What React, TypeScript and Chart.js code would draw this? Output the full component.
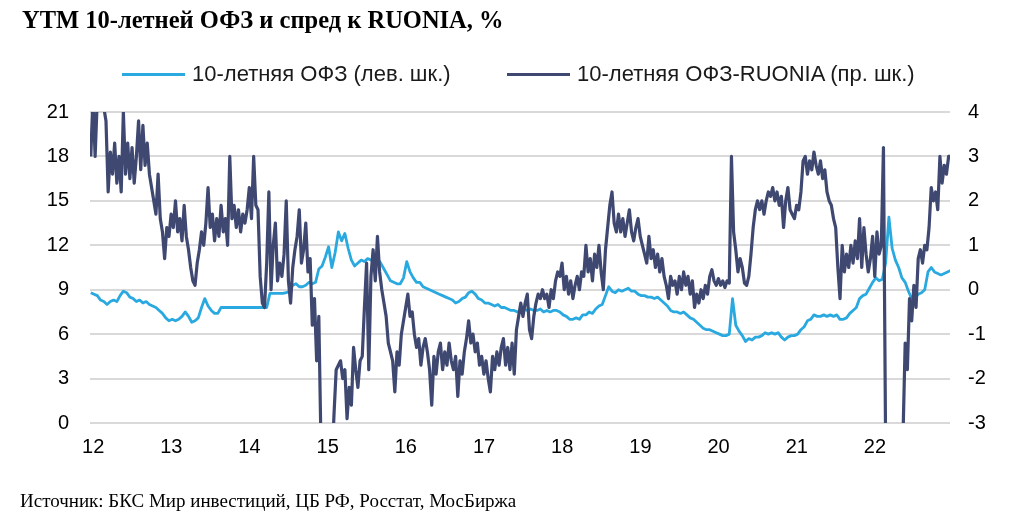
import React, { useEffect, useRef } from "react";
import { Chart, registerables } from "chart.js";

Chart.register(...registerables);

const TITLE = "YTM 10-летней ОФЗ и спред к RUONIA, %";
const SOURCE = "Источник: БКС Мир инвестиций, ЦБ РФ, Росстат, МосБиржа";
const SERIES_NAMES = ["10-летняя ОФЗ (лев. шк.)", "10-летняя ОФЗ-RUONIA (пр. шк.)"];
const YEAR_TICKS = [2012, 2013, 2014, 2015, 2016, 2017, 2018, 2019, 2020, 2021, 2022];
const LEFT_RANGE = [0, 21, 3];
const RIGHT_RANGE = [-3, 4, 1];
const START_YEAR = 2011.97;
const OFZ_PER_YEAR = 24;
const SPREAD_PER_YEAR = 36;

// 10-year OFZ yield, % (left axis), half-monthly
const ofzYield = [
  8.8, 8.7, 8.6, 8.3, 8.2, 8.0, 8.2, 8.3, 8.2, 8.6, 8.9, 8.8, 8.5, 8.4, 8.2, 8.3, 8.1, 8.2, 8.0, 7.9, 7.8, 7.6, 7.4, 7.1,
  6.9, 7.0, 6.9, 7.0, 7.2, 7.5, 7.2, 6.8, 6.9, 7.1, 7.8, 8.4, 7.9, 7.6, 7.4, 7.4, 7.8, 7.8, 7.8, 7.8, 7.8, 7.8, 7.8, 7.8,
  7.8, 7.8, 7.8, 7.8, 7.8, 7.8, 7.8, 8.75, 8.75, 8.75, 8.75, 8.75, 8.8, 8.9, 9.3, 9.4, 9.2, 9.2, 9.3, 9.5, 9.4, 9.5, 10.4, 10.6,
  11.2, 11.9, 10.5, 11.5, 12.9, 12.3, 12.8, 11.8, 11.0, 10.6, 10.8, 11.0, 10.9, 11.1, 11.0, 11.1, 11.1, 10.8, 10.4, 10.0, 9.6, 9.5, 9.4, 9.4,
  9.8, 10.9, 10.2, 9.8, 9.5, 9.5, 9.2, 9.1, 9.0, 8.9, 8.8, 8.7, 8.6, 8.5, 8.4, 8.3, 8.1, 8.2, 8.4, 8.5, 8.8, 8.9, 8.7, 8.4,
  8.3, 8.1, 8.1, 8.0, 7.9, 8.0, 7.8, 7.8, 7.7, 7.6, 7.6, 7.5, 7.6, 7.7, 7.6, 7.7, 7.6, 7.6, 7.7, 7.5, 7.6, 7.5, 7.6, 7.6,
  7.5, 7.3, 7.2, 7.0, 7.0, 7.1, 7.0, 7.3, 7.3, 7.5, 7.4, 7.7, 7.9, 8.0, 8.6, 9.2, 8.9, 8.8, 9.0, 8.9, 9.0, 9.1, 8.9, 8.9,
  8.7, 8.6, 8.6, 8.5, 8.5, 8.4, 8.5, 8.3, 8.1, 7.9, 7.6, 7.5, 7.5, 7.4, 7.5, 7.3, 7.1, 7.0, 6.8, 6.6, 6.4, 6.3, 6.3, 6.2,
  6.1, 6.0, 5.9, 5.9, 6.0, 8.4, 6.6, 6.2, 5.9, 5.5, 5.7, 5.6, 5.8, 5.8, 5.9, 6.1, 6.0, 6.1, 6.0, 6.1, 5.8, 5.6, 5.8, 5.9,
  5.9, 6.0, 6.3, 6.5, 6.9, 7.0, 7.3, 7.2, 7.2, 7.3, 7.2, 7.3, 7.2, 7.3, 7.0, 7.0, 7.1, 7.4, 7.6, 7.8, 8.4, 8.6, 8.7, 9.1,
  9.5, 9.8, 9.6, 9.7, 10.8, 13.9, 11.8, 11.0, 10.5, 9.8, 9.5, 8.9, 8.4, 8.4, 8.7, 8.8, 9.0, 10.2, 10.5, 10.2, 10.1, 10.0, 10.1, 10.2, 10.3,
];

// 10-year OFZ minus RUONIA, p.p. (right axis), ~10-day steps
const spreadRuonia = [
  3.0, 4.3, 3.0, 4.3, 4.2, 4.4, 4.1, 3.8, 2.2, 3.1, 2.6, 3.3, 2.4, 3.0, 2.2, 4.0, 2.6, 3.3, 2.5, 3.2, 2.4, 3.0, 3.8, 2.7, 3.7, 2.8, 3.3, 2.6, 2.3, 2.0, 1.7, 2.6, 1.6, 1.3, 0.7, 1.4,
  1.2, 1.7, 1.4, 2.0, 1.3, 1.6, 1.1, 1.9, 1.2, 0.9, 0.5, 0.2, 0.1, 0.6, 0.9, 1.3, 1.0, 1.5, 2.3, 1.4, 1.7, 1.1, 1.6, 1.2, 1.9, 1.3, 1.6, 1.0, 3.0, 1.6, 1.9, 1.4, 1.8, 1.3, 1.7, 1.5,
  1.8, 2.3, 1.6, 3.0, 1.9, 1.8, 0.3, -0.3, -0.4, 0.6, 2.2, 0.0, 1.0, 1.5, 0.2, 0.6, 0.3, 0.8, 2.0, 0.2, -0.3, 0.5, 0.9, 1.2, 1.8, 0.6, 0.9, 1.5, 0.4, 0.7, -0.8, -0.2, -1.6, -0.6, -3.5, -4.5,
  -5, -5, -5, -4, -2.8, -1.8, -1.7, -1.6, -2.0, -1.8, -2.9, -2.2, -2.6, -1.3, -1.8, -2.2, -1.6, -1.5, -0.4, 0.6, -1.8, 0.3, 0.9, 0.2, 1.2, 0.4, 0.0, -0.3, -0.6, -1.2, -1.4, -1.6, -2.3, -1.4, -1.7, -1.0,
  -0.7, -0.4, -0.1, -0.6, -0.5, -1.0, -1.3, -1.1, -1.7, -1.3, -1.1, -1.4, -1.8, -2.6, -1.5, -1.9, -1.4, -1.2, -1.8, -1.4, -1.7, -1.2, -1.6, -1.8, -1.5, -2.4, -1.6, -1.9, -1.4, -1.1, -0.7, -1.2, -1.0, -1.4, -1.2, -1.7,
  -1.5, -1.9, -1.6, -2.0, -2.3, -1.5, -1.8, -1.4, -1.7, -1.3, -1.1, -1.7, -1.3, -1.8, -1.2, -1.9, -0.9, -0.6, -0.3, -0.6, -0.3, -0.1, -0.9, -1.1, -0.6, -0.3, -0.1, -0.2, 0.0, -0.2, -0.1, -0.4, 0.0, -0.2, 0.2, 0.4,
  0.3, 0.6, 0.0, 0.3, -0.1, 0.2, -0.2, 0.1, 0.3, 0.0, 0.4, 0.3, 1.0, 0.4, 0.7, 0.2, 0.8, 0.5, 1.0, 0.4, 0.0, 0.9, 1.4, 1.9, 2.2, 1.5, 1.3, 1.7, 1.3, 1.6, 1.2, 1.5, 1.8, 1.3, 1.1, 1.4,
  1.6, 1.2, 1.0, 0.8, 0.6, 1.2, 0.7, 0.9, 0.5, 0.8, 0.4, 0.7, 0.3, 0.1, -0.2, 0.3, 0.1, 0.2, -0.1, 0.3, 0.0, 0.4, 0.1, 0.3, -0.1, 0.2, -0.4, -0.1, -0.3, 0.0, -0.2, 0.1, -0.1, 0.3, 0.45, 0.2,
  0.1, 0.25, 0.1, 0.2, 0.05, 0.2, 0.15, 3.0, 1.3, 0.9, 0.4, 0.7, 0.5, 0.15, 0.1, 0.3, 0.8, 1.4, 1.8, 2.0, 1.8, 2.0, 1.7, 2.0, 2.2, 2.1, 2.3, 2.0, 2.2, 1.9, 2.1, 1.4, 2.0, 2.3, 1.8, 1.7,
  1.6, 1.9, 1.8, 2.2, 2.9, 3.0, 2.6, 2.9, 2.7, 3.1, 2.8, 2.6, 2.9, 2.5, 2.7, 2.2, 2.0, 1.9, 1.6, 1.4, 0.5, -0.2, 1.0, 0.4, 0.8, 0.5, 1.0, 0.6, 1.1, 0.7, 1.6, 0.5, 1.4, 0.8, 0.4, 0.7,
  1.2, 0.3, 1.3, 0.8, 1.0, 3.2, -3.5, -5, -5, -5, -5, -5, -5, -5, -3.3, -1.2, -1.8, -0.2, -0.7, 0.1, -0.4, 0.7, 0.9, 0.6, 1.0, 0.9, 1.4, 2.3, 2.0, 2.2, 1.8, 3.0, 2.4, 2.8, 2.6, 3.0, 3.0,
];

const LIGHT = "#29a9df";
const DARK = "#3f4871";
const SANS = '"Liberation Sans", Arial, sans-serif';
const SERIF = '"Liberation Serif", "Times New Roman", serif';

export default function App() {
  const ref = useRef<HTMLCanvasElement | null>(null);

  useEffect(() => {
    if (!ref.current) return;
    const ofzPoints = ofzYield.map((v, i) => ({ x: START_YEAR + i / OFZ_PER_YEAR, y: v }));
    const spreadPoints = spreadRuonia.map((v, i) => ({ x: START_YEAR + i / SPREAD_PER_YEAR, y: v }));
    const tickFont = { family: SANS, size: 20 };
    const chart = new Chart(ref.current, {
      type: "line",
      data: {
        datasets: [
          {
            label: SERIES_NAMES[0],
            data: ofzPoints,
            yAxisID: "y",
            borderColor: LIGHT,
            borderWidth: 2.8,
            pointRadius: 0,
            tension: 0,
            borderJoinStyle: "round",
            order: 1,
          },
          {
            label: SERIES_NAMES[1],
            data: spreadPoints,
            yAxisID: "y1",
            borderColor: DARK,
            borderWidth: 3.2,
            pointRadius: 0,
            tension: 0,
            borderJoinStyle: "round",
            order: 0,
          },
        ],
      },
      options: {
        responsive: false,
        animation: false,
        devicePixelRatio: 1,
        layout: { padding: { top: 112, left: 0, right: 0, bottom: 0 } },
        plugins: { legend: { display: false }, title: { display: false }, tooltip: { enabled: false } },
        scales: {
          x: {
            type: "linear",
            min: 2011.96,
            max: 2022.96,
            afterBuildTicks: (scale: any) => {
              scale.ticks = YEAR_TICKS.map((v) => ({ value: v }));
            },
            afterFit: (scale: any) => {
              scale.height = 100;
            },
            grid: { display: false, drawTicks: false },
            border: { display: false },
            ticks: {
              font: tickFont,
              color: "#000",
              padding: 12,
              maxRotation: 0,
              autoSkip: false,
              callback: (v: any) => String(Math.round(Number(v)) - 2000),
            },
          },
          y: {
            position: "left",
            min: LEFT_RANGE[0],
            max: LEFT_RANGE[1],
            afterFit: (scale: any) => {
              scale.width = 90;
            },
            grid: { color: "#d9d9d9", lineWidth: 2, drawTicks: false },
            border: { display: false },
            ticks: { stepSize: LEFT_RANGE[2], font: tickFont, color: "#000", padding: 21 },
          },
          y1: {
            position: "right",
            min: RIGHT_RANGE[0],
            max: RIGHT_RANGE[1],
            afterFit: (scale: any) => {
              scale.width = 64;
            },
            grid: { display: false, drawTicks: false },
            border: { display: false },
            ticks: { stepSize: RIGHT_RANGE[2], font: tickFont, color: "#000", padding: 18 },
          },
        },
      },
    } as any);
    return () => chart.destroy();
  }, []);

  const legendText = {
    position: "absolute" as const,
    top: 63,
    font: `22px ${SANS}`,
    lineHeight: "22px",
    color: "#1a1a1a",
    whiteSpace: "nowrap" as const,
  };

  return (
    <div style={{ position: "absolute", left: 0, top: 0, width: 1014, height: 523, background: "#fff", overflow: "hidden" }}>
      <canvas ref={ref} width={1014} height={523} style={{ position: "absolute", left: 0, top: 0, width: 1014, height: 523 }} />
      <div
        style={{
          position: "absolute",
          left: 22,
          top: 7.5,
          font: `bold 24.5px ${SERIF}`,
          lineHeight: "24.5px",
          color: "#000",
          whiteSpace: "nowrap",
        }}
      >
        {TITLE}
      </div>
      <div style={{ position: "absolute", left: 122, top: 73, width: 63, height: 3, background: LIGHT }} />
      <div style={{ ...legendText, left: 192 }}>{SERIES_NAMES[0]}</div>
      <div style={{ position: "absolute", left: 507, top: 73, width: 63, height: 3, background: DARK }} />
      <div style={{ ...legendText, left: 577 }}>{SERIES_NAMES[1]}</div>
      <div
        style={{
          position: "absolute",
          left: 20,
          top: 491,
          font: `19px ${SERIF}`,
          lineHeight: "19px",
          color: "#000",
          whiteSpace: "nowrap",
        }}
      >
        {SOURCE}
      </div>
    </div>
  );
}
